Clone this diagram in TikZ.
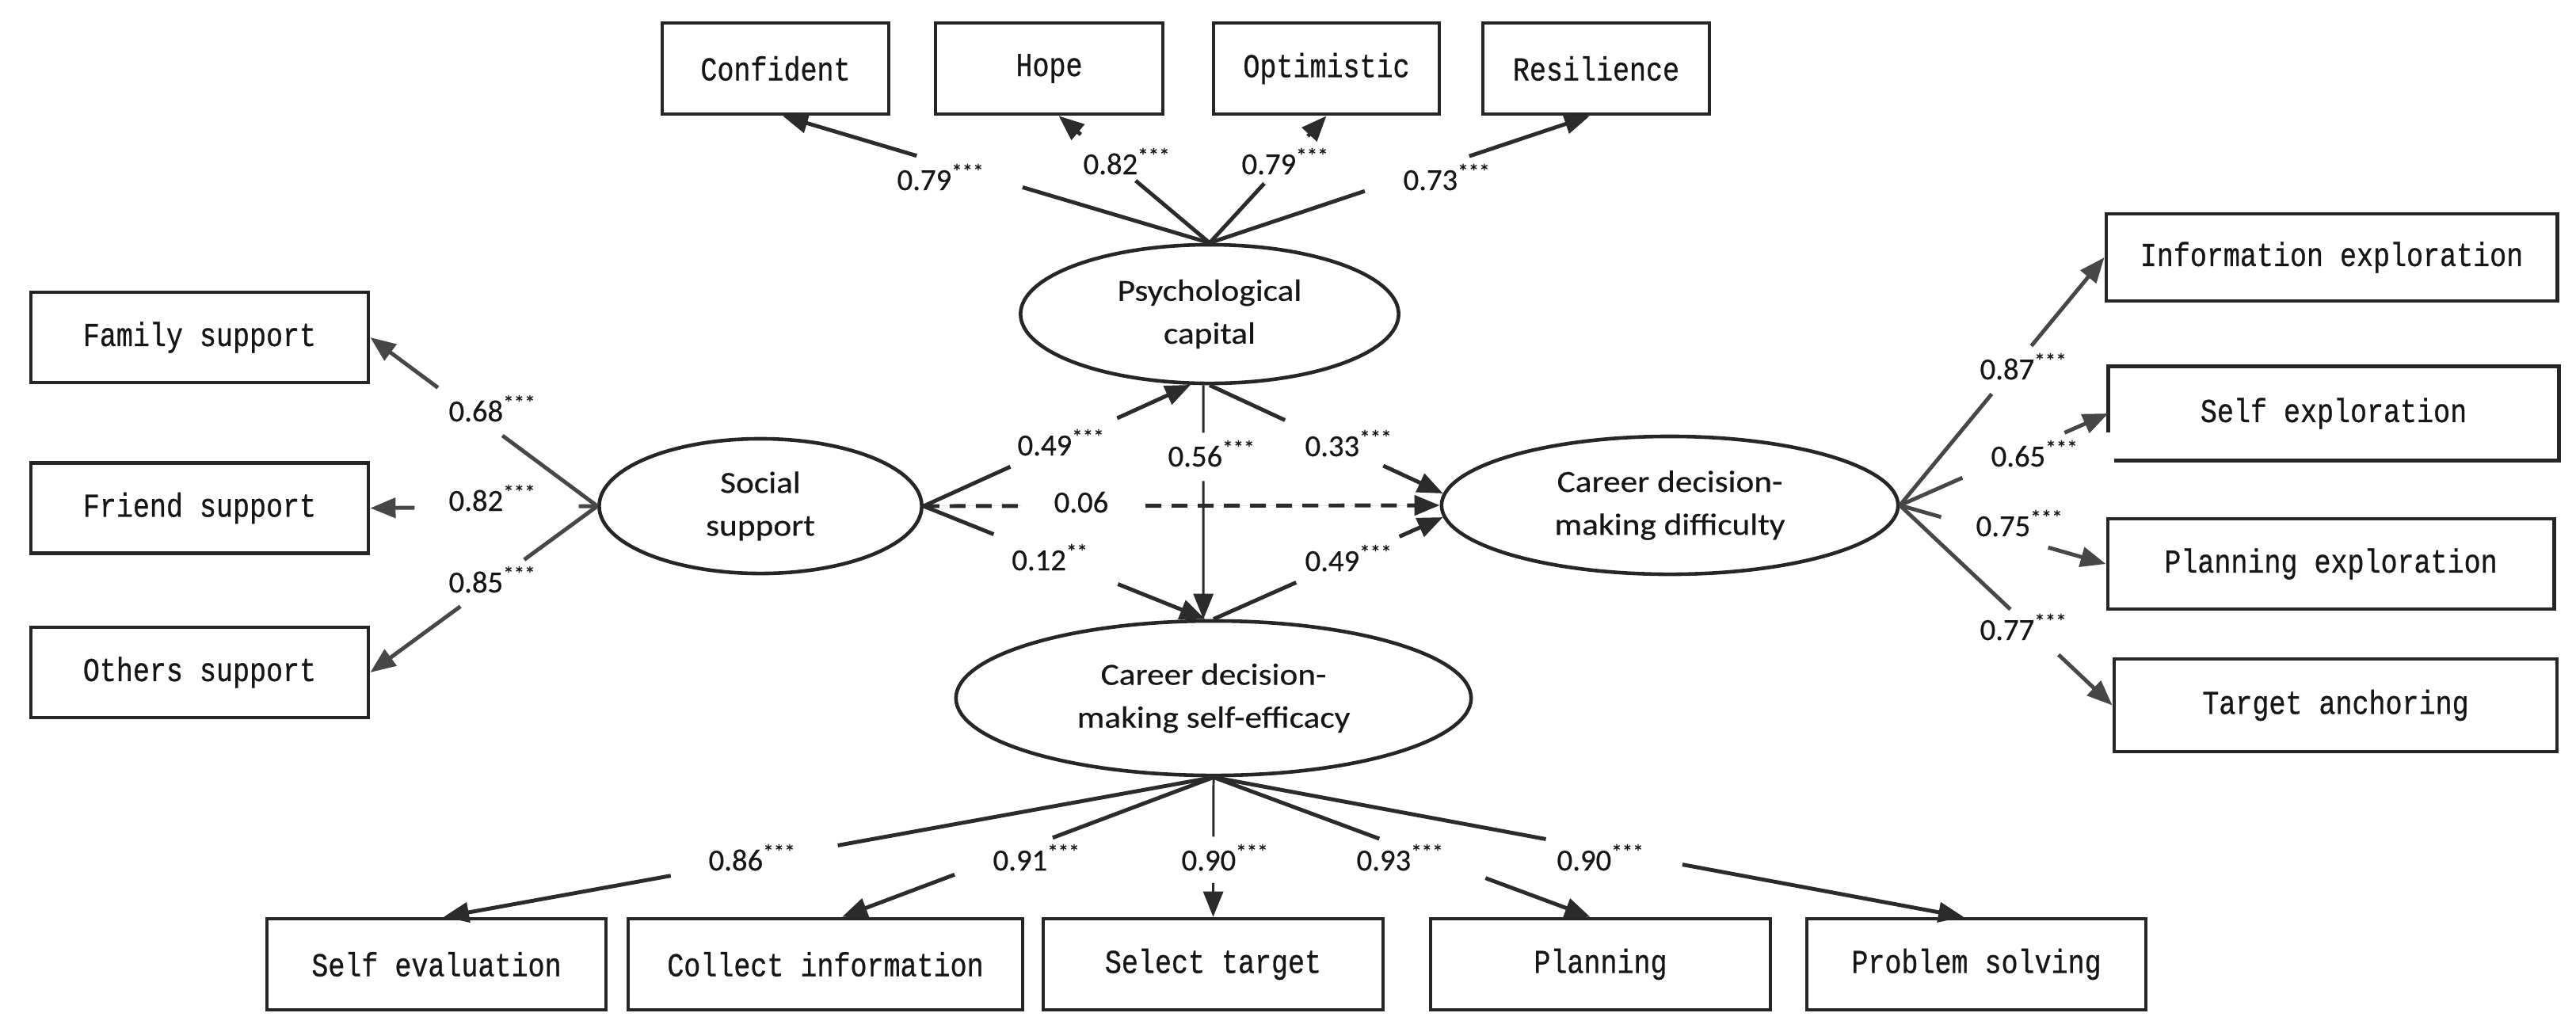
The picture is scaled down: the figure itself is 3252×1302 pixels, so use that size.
\documentclass[tikz,border=0pt]{standalone}
\usepackage{fontspec}
\setmainfont[FakeBold=0.4]{Carlito}
\newfontfamily\boxfont[FakeStretch=0.83,FakeBold=0.6]{Liberation Mono}
\newfontfamily\ellfont[FakeStretch=1.12,FakeBold=0.4]{Carlito}
\usetikzlibrary{arrows.meta,calc,shapes.geometric}
\definecolor{ln}{HTML}{2B2B2B}
\definecolor{lng}{HTML}{474747}
\definecolor{boxc}{HTML}{262626}
\definecolor{txt}{HTML}{161616}
\newcommand\gapline[5]{%
  \draw[#1] (#2) -- ($(#2)!#4!(#3)$);
  \draw[#1,-{Triangle[length=0.32cm,width=0.25cm]}] ($(#2)!#5!(#3)$) -- (#3);}
\begin{document}
\begin{tikzpicture}[x=0.01cm,y=-0.01cm,
  box/.style={draw=boxc, line width=1.3pt, rectangle, inner sep=0pt, text=txt,
    font={\boxfont\fontsize{12pt}{14pt}\selectfont}},
  topbox/.style={box, minimum height=1.15cm, minimum width=2.86cm},
  lbox/.style={box, minimum height=1.14cm, minimum width=4.26cm},
  bbox/.style={box, minimum height=1.15cm, minimum width=4.28cm},
  ell/.style={ellipse, draw=boxc, line width=1.3pt, inner sep=0pt, align=center, text=txt,
    font={\ellfont\fontsize{11pt}{15.4pt}\selectfont}},
  lab/.style={inner sep=0pt, anchor=base, text=txt, font={\fontsize{11pt}{13pt}\selectfont}},
  ind/.style={line width=1.4pt, draw=ln, fill=ln},
  indg/.style={line width=1.4pt, draw=lng, fill=ln},
  thin/.style={line width=0.85pt, draw=ln, fill=ln},
  dsh/.style={line width=1.4pt, draw=ln, fill=ln, dash pattern=on 0.2cm off 0.13cm}
]
\fill[white] (0,0) rectangle (3252,1302);
\useasboundingbox (0,0) rectangle (3252,1302);

% top indicators
\node[topbox] (conf) at (979,86.5) {Confident};
\node[topbox, minimum width=2.87cm] (hope) at (1324.5,86.5) {Hope};
\node[topbox, minimum width=2.85cm] (opt) at (1674.5,86.5) {Optimistic};
\node[topbox] (res) at (2015,86.5) {Resilience};

% left indicators
\node[lbox] (fam) at (252,426) {Family support};
\node[lbox] (fri) at (252,641.5) {Friend support};
\node[lbox] (oth) at (252,849) {Others support};

% right indicators
\node[box, minimum width=5.69cm, minimum height=1.10cm] (info) at (2943.5,325) {Information exploration};
\node[box, draw=none, minimum width=5.64cm, minimum height=1.14cm] (selfx) at (2946,522) {Self exploration};
\draw[draw=boxc, line width=1.3pt] ($(selfx.south west)+(0,-35)$) |- (selfx.north east) |- ($(selfx.south west)+(7,0)$);
\node[box, minimum width=5.63cm, minimum height=1.14cm] (plnx) at (2942.5,712) {Planning exploration};
\node[box, minimum width=5.59cm, minimum height=1.17cm] (targ) at (2948.5,890.5) {Target anchoring};

% bottom indicators
\node[bbox] (sev) at (551,1217.5) {Self evaluation};
\node[bbox, minimum width=4.98cm] (col) at (1042,1217.5) {Collect information};
\node[bbox, minimum width=4.29cm] (sel) at (1531.5,1217.5) {Select target};
\node[bbox, minimum width=4.29cm] (pln) at (2020.5,1217.5) {Planning};
\node[bbox] (prb) at (2495,1217.5) {Problem solving};

% latent variables
\node[ell, minimum width=4.77cm, minimum height=1.75cm] (psy) at (1527,396.5) {Psychological\\capital};
\node[ell, minimum width=4.07cm, minimum height=1.70cm] (soc) at (960,639) {Social\\support};
\node[ell, minimum width=5.76cm, minimum height=1.74cm] (cdmd) at (2108,638) {Career decision-\\making difficulty};
\node[ell, minimum width=6.50cm, minimum height=1.95cm] (cdse) at (1532,881.5) {Career decision-\\making self-efficacy};

% arrow end points
\coordinate (tConf) at ($(conf.south)+(9,0)$);
\coordinate (tHope) at ($(hope.south)+(12,0)$);
\coordinate (tOpt) at (opt.south);
\coordinate (tRes) at ($(res.south)+(-8,0)$);
\coordinate (tSev) at ($(sev.north)+(9,0)$);
\coordinate (tCol) at ($(col.north)+(21,0)$);
\coordinate (tSel) at (sel.north);
\coordinate (tPln) at ($(pln.north)+(-13,0)$);
\coordinate (tPrb) at ($(prb.north)+(-16,0)$);
\coordinate (t56) at (psy.265 |- cdse.north);

% psychological capital indicators
\gapline{ind}{psy.north}{tConf}{0.438}{0.686}
\gapline{ind}{psy.north}{tHope}{0.49}{0.853}
\gapline{ind}{psy.north}{tOpt}{0.468}{0.84}
\gapline{ind}{psy.north}{tRes}{0.408}{0.683}

% social support indicators
\gapline{indg}{soc.west}{fam.east}{0.418}{0.702}
\gapline{indg}{soc.west}{fri.east}{0.082}{0.805}
\gapline{indg}{soc.west}{oth.east}{0.322}{0.603}

% difficulty indicators
\gapline{indg}{cdmd.east}{info.west}{0.449}{0.643}
\gapline{indg}{cdmd.east}{selfx.west}{0.30}{0.79}
\gapline{indg}{cdmd.east}{plnx.west}{0.20}{0.72}
\gapline{indg}{cdmd.east}{targ.west}{0.52}{0.747}

% self-efficacy indicators
\gapline{ind}{cdse.south}{tSev}{0.488}{0.705}
\gapline{ind}{cdse.south}{tCol}{0.433}{0.697}
\gapline{thin}{cdse.south}{tSel}{0.425}{0.757}
\gapline{ind}{cdse.south}{tPln}{0.44}{0.722}
\gapline{ind}{cdse.south}{tPrb}{0.443}{0.625}

% structural paths
\gapline{ind}{soc.east}{psy.255}{0.325}{0.725}
\gapline{dsh}{soc.east}{cdmd.west}{0.19}{0.43}
\gapline{ind}{soc.east}{cdse.96}{0.249}{0.69}
\gapline{thin}{psy.265}{t56}{0.203}{0.41}
\gapline{ind}{psy.south}{cdmd.177}{0.323}{0.744}
\gapline{ind}{cdse.north}{cdmd.183}{0.36}{0.81}

% coefficient labels
\node[lab] (l1) at (1188,240) {0.79\textsuperscript{***}};
\node[lab] (l2) at (1423,220) {0.82\textsuperscript{***}};
\node[lab] (l3) at (1623,220) {0.79\textsuperscript{***}};
\node[lab] (l4) at (1827,240) {0.73\textsuperscript{***}};
\node[lab] (l5) at (622,532) {0.68\textsuperscript{***}};
\node[lab] (l6) at (622,645) {0.82\textsuperscript{***}};
\node[lab] (l7) at (622,748) {0.85\textsuperscript{***}};
\node[lab] (l8) at (1340,575) {0.49\textsuperscript{***}};
\node[lab] (l9) at (1530,589) {0.56\textsuperscript{***}};
\node[lab] (l10) at (1703,576) {0.33\textsuperscript{***}};
\node[lab] (l11) at (1365,647) {0.06};
\node[lab] (l12) at (1326,720) {0.12\textsuperscript{**}};
\node[lab] (l13) at (1703,721) {0.49\textsuperscript{***}};
\node[lab] (l14) at (2555,479) {0.87\textsuperscript{***}};
\node[lab] (l15) at (2569,589) {0.65\textsuperscript{***}};
\node[lab] (l16) at (2550,677) {0.75\textsuperscript{***}};
\node[lab] (l17) at (2555,808) {0.77\textsuperscript{***}};
\node[lab] (l18) at (950,1099) {0.86\textsuperscript{***}};
\node[lab] (l19) at (1309,1099) {0.91\textsuperscript{***}};
\node[lab] (l20) at (1547,1099) {0.90\textsuperscript{***}};
\node[lab] (l21) at (1768,1099) {0.93\textsuperscript{***}};
\node[lab] (l22) at (2021,1099) {0.90\textsuperscript{***}};
\end{tikzpicture}
\end{document}
